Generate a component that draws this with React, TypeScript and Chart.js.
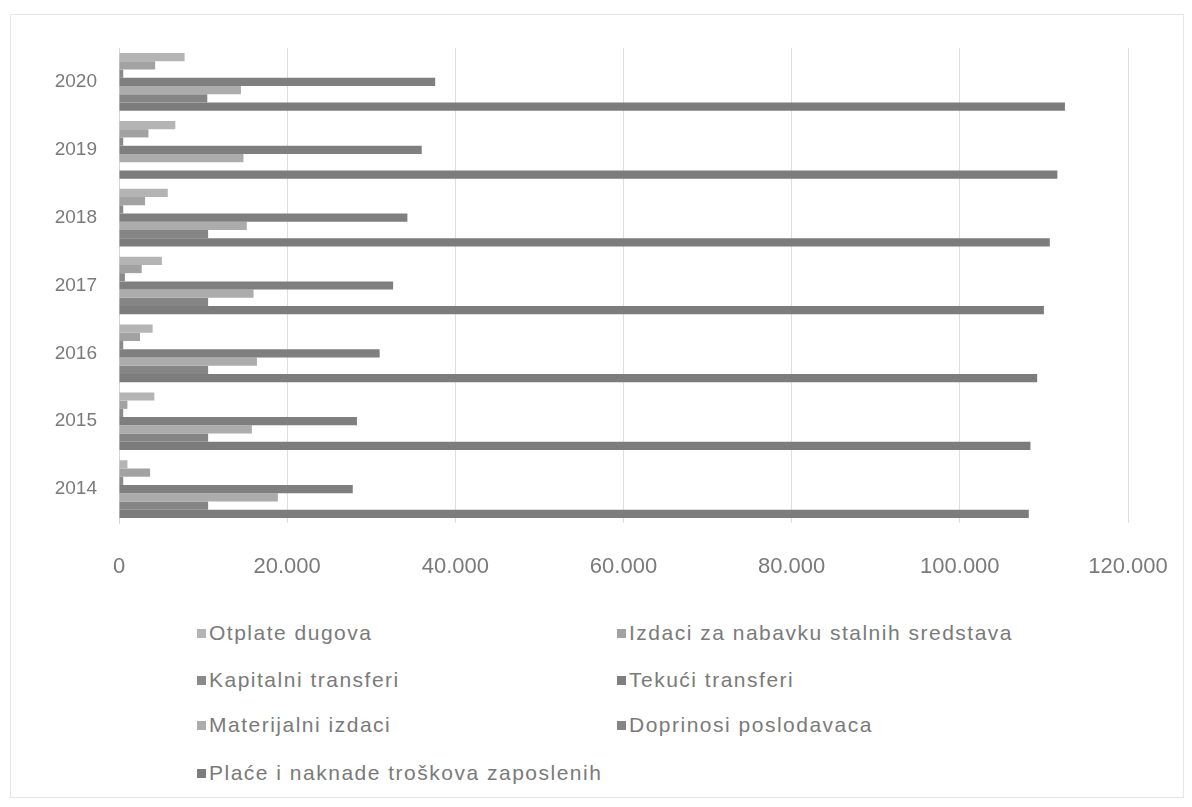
import React, { useEffect, useRef } from "react";
import { Chart, registerables } from "chart.js";

Chart.register(...registerables);

// Years (chronological) – drawn top-down from 2020 to 2014 like the source
const years = ["2014", "2015", "2016", "2017", "2018", "2019", "2020"];

const otplateDugova = [1000, 4200, 4000, 5100, 5800, 6700, 7800];
const izdaciNabavka = [3700, 1000, 2500, 2700, 3100, 3500, 4300];
const kapitalniTransferi = [500, 500, 500, 700, 500, 500, 500];
const tekuciTransferi = [27800, 28300, 31000, 32600, 34300, 36000, 37600];
const materijalniIzdaci = [18900, 15800, 16400, 16000, 15200, 14800, 14500];
const doprinosiPoslodavaca = [10600, 10600, 10600, 10600, 10600, null, 10500];
const placeNaknade = [108200, 108400, 109200, 110000, 110700, 111600, 112500];

const xTicks = [0, 20000, 40000, 60000, 80000, 100000, 120000];

const seriesLabels = [
  "Otplate dugova",
  "Izdaci za nabavku stalnih sredstava",
  "Kapitalni transferi",
  "Tekući transferi",
  "Materijalni izdaci",
  "Doprinosi poslodavaca",
  "Plaće i naknade troškova zaposlenih",
];
const seriesData = [
  otplateDugova,
  izdaciNabavka,
  kapitalniTransferi,
  tekuciTransferi,
  materijalniIzdaci,
  doprinosiPoslodavaca,
  placeNaknade,
];
const seriesColors = ["#b4b4b4", "#a2a2a2", "#8a8a8a", "#7f7f7f", "#acacac", "#858585", "#7c7c7c"];

const FONT = "'Liberation Sans', Arial, sans-serif";
const TEXT = "#7a7a7a";

function fmt(v: number) {
  return String(v).replace(/\B(?=(\d{3})+(?!\d))/g, ".");
}

export default function App() {
  const ref = useRef<HTMLCanvasElement | null>(null);

  useEffect(() => {
    if (!ref.current) return;
    const labels = [...years].reverse();
    const chart = new Chart(ref.current, {
      type: "bar",
      data: {
        labels,
        datasets: seriesLabels.map((l, i) => ({
          label: l,
          data: [...seriesData[i]].reverse(),
          backgroundColor: seriesColors[i],
          borderWidth: 0,
          categoryPercentage: 0.85,
          barPercentage: 1.0,
        })),
      },
      options: {
        indexAxis: "y",
        animation: false,
        responsive: false,
        maintainAspectRatio: false,
        layout: { padding: { top: 40, right: 56, left: 0, bottom: 0 } },
        plugins: {
          legend: { display: false },
          tooltip: { enabled: false },
        },
        scales: {
          x: {
            min: 0,
            max: 120000,
            afterBuildTicks: (s: any) => {
              s.ticks = xTicks.map((v) => ({ value: v }));
            },
            afterFit: (s: any) => {
              s.height = 85;
              s.paddingRight = 0;
              s.paddingLeft = 0;
            },
            grid: { color: "#dedede", drawTicks: false, lineWidth: 1 },
            border: { display: false },
            ticks: {
              padding: 31,
              color: TEXT,
              font: { family: FONT, size: 22 },
              maxRotation: 0,
              autoSkip: false,
              callback: (v: any) => fmt(Number(v)),
            },
          },
          y: {
            afterFit: (s: any) => {
              s.width = 111;
              s.paddingTop = 0;
              s.paddingBottom = 0;
            },
            grid: { display: false, drawTicks: false },
            border: { display: true, color: "#d6d6d6" },
            ticks: {
              padding: 22,
              color: TEXT,
              font: { family: FONT, size: 19 },
            },
          },
        },
      },
    });
    return () => chart.destroy();
  }, []);

  const legendRows = [
    [0, 1],
    [2, 3],
    [4, 5],
    [6],
  ];
  const rowY = [625, 672, 717, 765];
  const colX = [189, 609];

  return (
    <div style={{ position: "relative", width: 1176, height: 791 }}>
      <div
        style={{
          position: "absolute",
          left: 2,
          top: 6,
          width: 1174,
          height: 784,
          border: "1px solid #e6e6e6",
          boxSizing: "border-box",
        }}
      />
      <canvas ref={ref} width={1176} height={600} style={{ position: "absolute", left: 0, top: 0 }} />
      {legendRows.map((row, r) =>
        row.map((idx, c) => (
          <div
            key={idx}
            style={{
              position: "absolute",
              left: colX[c],
              top: rowY[r] - 13,
              height: 26,
              display: "flex",
              alignItems: "center",
              fontFamily: FONT,
              fontSize: 21,
              letterSpacing: "1.5px",
              color: TEXT,
              whiteSpace: "nowrap",
            }}
          >
            <span
              style={{
                display: "inline-block",
                width: 9,
                height: 9,
                background: seriesColors[idx],
                marginRight: 3,
              }}
            />
            {seriesLabels[idx]}
          </div>
        ))
      )}
    </div>
  );
}
